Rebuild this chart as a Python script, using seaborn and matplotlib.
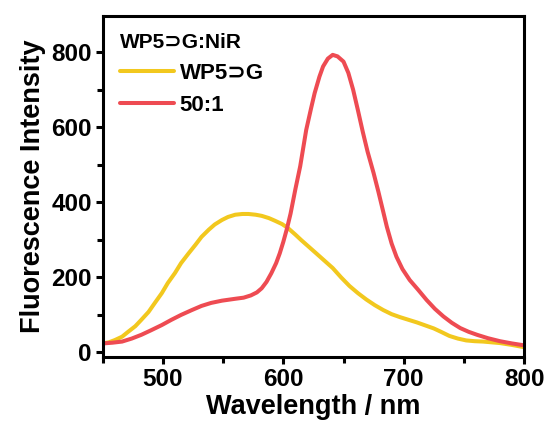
import pandas as pd
import matplotlib.pyplot as plt
from matplotlib.ticker import MultipleLocator
import seaborn as sns

# ---- data ----
wp5g_x = [450, 455, 460, 466, 471, 477, 482, 488, 493, 499, 504, 510, 515, 521,
          527, 532, 538, 543, 549, 554, 560, 566, 571, 577, 582, 588, 593, 599,
          604, 610, 615, 621, 627, 634, 641, 648, 655, 662, 669, 676, 683, 690,
          697, 704, 711, 718, 725, 731, 738, 745, 752, 759, 766, 773, 780, 790, 800]
wp5g_y = [24, 27, 33, 42, 55, 70, 87, 108, 131, 158, 185, 212, 238, 263,
          287, 308, 327, 341, 353, 361, 367, 369, 369, 367, 364, 358, 351, 342,
          331, 314, 299, 282, 265, 245, 225, 200, 177, 158, 141, 126, 113, 102,
          94, 87, 80, 72, 64, 55, 44, 37, 32, 30, 29, 27, 25, 20, 14]

ratio_x = [450, 458, 466, 474, 482, 490, 499, 507, 515, 524, 532, 540, 549, 560,
           567, 573, 578, 582, 586, 590, 594, 597, 600, 603, 606, 610, 614, 619,
           623, 626, 630, 633, 637, 641, 645, 650, 654, 658, 662, 666, 670, 675,
           679, 683, 686, 690, 694, 699, 705, 712, 719, 726, 733, 740, 747, 754,
           761, 770, 780, 790, 800]
ratio_y = [24, 26, 29, 37, 47, 59, 73, 87, 100, 113, 124, 132, 138, 143,
           146, 152, 160, 171, 188, 211, 238, 264, 295, 330, 370, 435, 496, 593,
           650, 691, 735, 762, 783, 793, 789, 775, 745, 700, 645, 588, 535, 478,
           428, 375, 335, 290, 255, 222, 193, 167, 140, 116, 96, 79, 65, 55,
           47, 38, 30, 24, 19]

labels = ["WP5\u2283G", "50:1"]
colors = ["#F2C81E", "#EE4B52"]

df = pd.concat([
    pd.DataFrame({"wl": wp5g_x, "I": wp5g_y, "sample": labels[0]}),
    pd.DataFrame({"wl": ratio_x, "I": ratio_y, "sample": labels[1]}),
])

sns.set_style("ticks", {"axes.edgecolor": "black", "text.color": "black",
                        "xtick.color": "black", "ytick.color": "black",
                        "axes.labelcolor": "black"})
plt.rcParams["font.family"] = ["Liberation Sans", "DejaVu Sans"]
plt.rcParams["font.weight"] = "bold"

fig = plt.figure(figsize=(5.47, 4.28), dpi=100)
ax = fig.add_axes([0.188, 0.166, 0.770, 0.797])

sns.lineplot(data=df, x="wl", y="I", hue="sample", palette=dict(zip(labels, colors)),
             linewidth=2.9, sort=False, ax=ax)
for ln in ax.lines:
    ln.set_solid_joinstyle("round")
    ln.set_solid_capstyle("round")

ax.set_xlim(450, 800)
ax.set_ylim(-12, 897)
ax.xaxis.set_major_locator(MultipleLocator(100))
ax.xaxis.set_minor_locator(MultipleLocator(50))
ax.yaxis.set_major_locator(MultipleLocator(200))
ax.yaxis.set_minor_locator(MultipleLocator(100))
ax.tick_params(which="major", length=5, width=2.2, labelsize=17.5, direction="out", pad=3)
ax.tick_params(which="minor", length=4, width=2.2, direction="out")
for lab in ax.get_xticklabels() + ax.get_yticklabels():
    lab.set_fontweight("bold")
for s in ax.spines.values():
    s.set_linewidth(2.2)
    s.set_visible(True)

ax.set_xlabel("Wavelength / nm", fontsize=19.5, fontweight="bold", labelpad=2)
ax.set_ylabel("Fluorescence Intensity", fontsize=19.5, fontweight="bold", labelpad=4)

leg = ax.legend(title="WP5\u2283G:NiR", loc="upper left", frameon=False,
                fontsize=16, title_fontsize=15, handlelength=2.45,
                handletextpad=0.25, borderaxespad=0.3, labelspacing=0.5,
                borderpad=0.45)
leg._legend_box.align = "left"
for t in leg.get_texts():
    t.set_fontweight("bold")
leg.get_title().set_fontweight("bold")

fig.savefig("out.png", dpi=100)
